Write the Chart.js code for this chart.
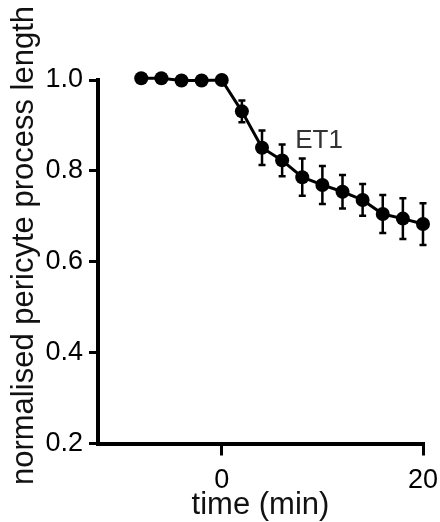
<!DOCTYPE html>
<html>
<head>
<meta charset="utf-8">
<title>ET1 pericyte process length</title>
<script src="https://cdn.jsdelivr.net/npm/chart.js@4.4.1/dist/chart.umd.min.js"></script>
<style>
  html, body { margin: 0; padding: 0; background: #fff; }
  #wrap { width: 440px; height: 522px; }
</style>
</head>
<body>
<div id="wrap"><canvas id="et1Chart" width="440" height="522"></canvas></div>
<script>
// Datos
const times = [-8, -6, -4, -2, 0, 2, 4, 6, 8, 10, 12, 14, 16, 18, 20];
const meanLength = [1.004, 1.004, 0.999, 0.999, 1.0, 0.931, 0.851, 0.823, 0.786, 0.769, 0.754, 0.736, 0.705, 0.695, 0.683];
const semLength = [0.004, 0.004, 0.004, 0.004, 0.004, 0.024, 0.038, 0.035, 0.041, 0.042, 0.037, 0.035, 0.042, 0.045, 0.046];
const xTicks = [0, 20];
const yTicks = [0.2, 0.4, 0.6, 0.8, 1.0];

const FONT = "'Liberation Sans', Arial, sans-serif";

// Barras de error (media +/- SEM)
const errorBars = {
    id: 'errorBars',
    beforeDatasetsDraw(chart) {
        const ctx = chart.ctx;
        const x = chart.scales.x;
        const y = chart.scales.y;
        ctx.save();
        ctx.strokeStyle = '#000';
        ctx.lineWidth = 2.5;
        times.forEach((t, i) => {
            const px = x.getPixelForValue(t);
            const top = y.getPixelForValue(meanLength[i] + semLength[i]);
            const bot = y.getPixelForValue(meanLength[i] - semLength[i]);
            ctx.beginPath();
            ctx.moveTo(px, top);
            ctx.lineTo(px, bot);
            ctx.moveTo(px - 3.5, top);
            ctx.lineTo(px + 3.5, top);
            ctx.moveTo(px - 3.5, bot);
            ctx.lineTo(px + 3.5, bot);
            ctx.stroke();
        });
        ctx.restore();
    }
};

// Etiqueta "ET1" y titulo del eje Y
const labels = {
    id: 'labels',
    afterDraw(chart) {
        const ctx = chart.ctx;
        const x = chart.scales.x;
        const y = chart.scales.y;
        ctx.save();
        ctx.fillStyle = '#333';
        ctx.font = '26px ' + FONT;
        ctx.textAlign = 'left';
        ctx.textBaseline = 'middle';
        ctx.fillText('ET1', x.getPixelForValue(7.3), y.getPixelForValue(0.866));

        ctx.fillStyle = '#111';
        ctx.font = '31px ' + FONT;
        ctx.translate(33, 245.5);
        ctx.rotate(-Math.PI / 2);
        ctx.textAlign = 'center';
        ctx.textBaseline = 'alphabetic';
        ctx.fillText('normalised pericyte process length', 0, 0);
        ctx.restore();
    }
};

const ctx = document.getElementById('et1Chart').getContext('2d');
new Chart(ctx, {
    type: 'line',
    data: {
        datasets: [{
            label: 'ET1',
            data: times.map((t, i) => ({ x: t, y: meanLength[i] })),
            borderColor: '#000',
            borderWidth: 3,
            pointRadius: 7,
            pointBackgroundColor: '#000',
            pointBorderWidth: 0,
            tension: 0,
            clip: false
        }]
    },
    options: {
        responsive: false,
        animation: false,
        layout: {
            padding: { top: 80, right: 17, bottom: 0, left: 0 }
        },
        plugins: {
            legend: { display: false },
            tooltip: { enabled: false }
        },
        scales: {
            x: {
                type: 'linear',
                min: -12.3,
                max: 20,
                afterBuildTicks: function(scale) {
                    scale.ticks = xTicks.map(v => ({ value: v }));
                },
                afterFit: function(scale) {
                    scale.height = 78.5;
                    scale.paddingLeft = 0;
                    scale.paddingRight = 0;
                },
                grid: { drawOnChartArea: false, color: '#000', lineWidth: 3, tickLength: 12 },
                border: { color: '#000', width: 4 },
                ticks: {
                    color: '#000',
                    padding: 9,
                    maxRotation: 0,
                    font: { family: FONT, size: 27 }
                },
                title: {
                    display: true,
                    text: 'time (min)',
                    color: '#111',
                    padding: { top: -2, bottom: -2 },
                    font: { family: FONT, size: 31 }
                }
            },
            y: {
                min: 0.2,
                max: 1.0,
                afterBuildTicks: function(scale) {
                    scale.ticks = yTicks.map(v => ({ value: v }));
                },
                afterFit: function(scale) {
                    scale.width = 98;
                },
                grid: { drawOnChartArea: false, color: '#000', lineWidth: 3, tickLength: 9 },
                border: { color: '#000', width: 4 },
                ticks: {
                    color: '#000',
                    padding: 6,
                    font: { family: FONT, size: 27 },
                    callback: function(value) {
                        return value.toFixed(1);
                    }
                }
            }
        }
    },
    plugins: [errorBars, labels]
});
</script>
</body>
</html>
